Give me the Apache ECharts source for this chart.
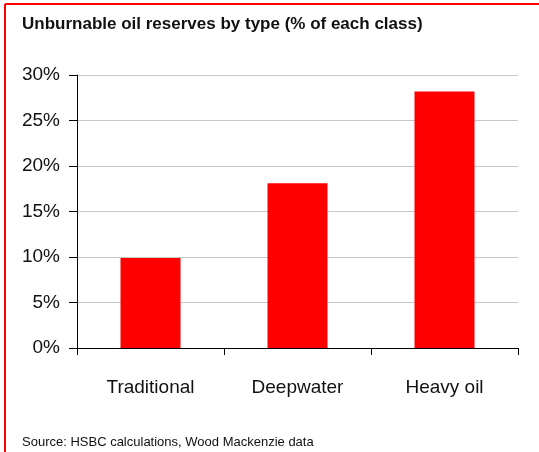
<!DOCTYPE html>
<html>
<head>
<meta charset="utf-8">
<script src="https://cdn.jsdelivr.net/npm/echarts@6/dist/echarts.min.js"></script>
<style>
html,body{margin:0;padding:0;background:#fff;}
#c{width:539px;height:452px;}
</style>
</head>
<body>
<div id="c"></div>
<script>
const titleText = 'Unburnable oil reserves by type (% of each class)';
const sourceText = 'Source: HSBC calculations, Wood Mackenzie data';
const categories = ['Traditional', 'Deepwater', 'Heavy oil'];
const values = [9.9, 18.1, 28.2];
const yTicks = [0, 5, 10, 15, 20, 25, 30];

const FONT = '"Liberation Sans", Arial, sans-serif';
const chart = echarts.init(document.getElementById('c'), null, {renderer: 'canvas'});
chart.setOption({
  animation: false,
  backgroundColor: '#fff',
  title: [{
    text: titleText,
    left: 22, top: 16, padding: 0,
    textStyle: {fontFamily: FONT, fontWeight: 'bold', fontSize: 17, color: '#111'}
  }, {
    text: sourceText,
    left: 22, top: 436, padding: 0,
    textStyle: {fontFamily: FONT, fontWeight: 'normal', fontSize: 13, color: '#111'}
  }],
  graphic: [
    {type: 'line', shape: {x1: 5, y1: 4, x2: 539, y2: 4}, style: {stroke: '#ff0000', lineWidth: 2}},
    {type: 'line', shape: {x1: 5, y1: 4, x2: 5, y2: 452}, style: {stroke: '#ff0000', lineWidth: 2}}
  ],
  grid: {left: 77, right: 21, top: 75, bottom: 104, containLabel: false},
  xAxis: {
    type: 'category',
    data: categories,
    axisLine: {lineStyle: {color: '#000', width: 1}},
    axisTick: {show: true, length: 7, lineStyle: {color: '#000'}, alignWithLabel: false},
    axisLabel: {margin: 30, fontFamily: FONT, fontSize: 19, color: '#111'}
  },
  yAxis: {
    type: 'value',
    min: yTicks[0], max: yTicks[yTicks.length - 1], interval: 5,
    axisLine: {show: true, lineStyle: {color: '#000', width: 1}},
    axisTick: {show: true, length: 8, lineStyle: {color: '#000'}},
    splitLine: {show: true, lineStyle: {color: '#c8c8c8', width: 1}},
    axisLabel: {margin: 17, fontFamily: FONT, fontSize: 19, color: '#111', formatter: '{value}%'}
  },
  series: [{
    type: 'bar',
    data: values,
    barWidth: 60,
    itemStyle: {color: '#ff0000'}
  }]
});
</script>
</body>
</html>
